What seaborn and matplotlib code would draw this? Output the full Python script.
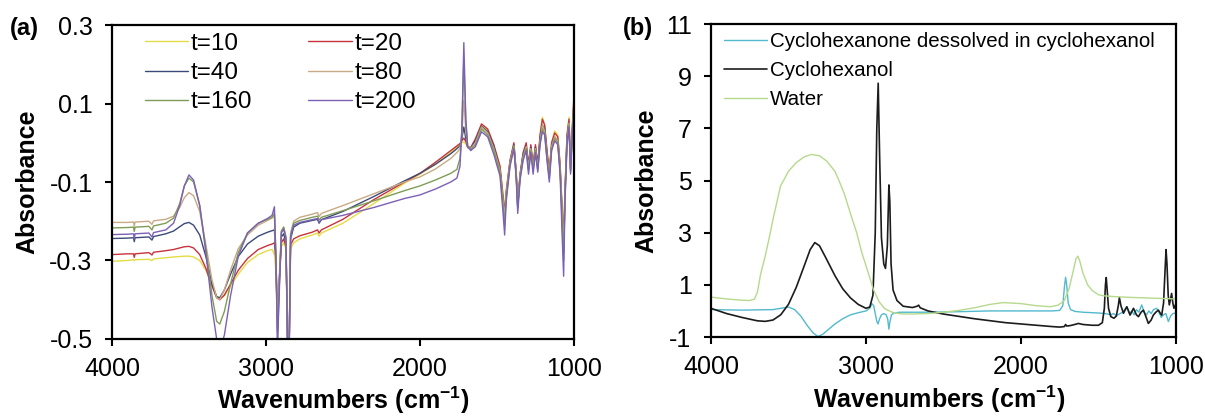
import pandas as pd
import matplotlib
matplotlib.use("Agg")
import matplotlib.pyplot as plt
import seaborn as sns

# ---- panel (a): spectra over time ----
wn_a = [4000, 3900, 3860, 3855, 3850, 3760, 3740, 3730, 3650, 3600,
        3560, 3530, 3500, 3470, 3430, 3390, 3350, 3320, 3300, 3270,
        3230, 3180, 3120, 3050, 2990, 2960, 2945, 2935, 2925, 2915,
        2900, 2885, 2870, 2858, 2850, 2840, 2820, 2780, 2700, 2665,
        2655, 2640, 2500, 2300, 2100, 2000, 1900, 1800, 1760, 1740,
        1728, 1715, 1702, 1690, 1670, 1640, 1600, 1560, 1520, 1480,
        1460, 1450, 1440, 1415, 1390, 1375, 1365, 1350, 1330, 1310,
        1295, 1280, 1265, 1250, 1235, 1220, 1205, 1190, 1175, 1160,
        1145, 1125, 1105, 1090, 1078, 1067, 1058, 1045, 1032, 1022,
        1012, 1000]

t10 = [-0.302, -0.300, -0.298, -0.300, -0.298, -0.297, -0.300, -0.296, -0.293, -0.291,
       -0.290, -0.289, -0.289, -0.291, -0.300, -0.325, -0.365, -0.392, -0.398, -0.390,
       -0.365, -0.335, -0.305, -0.285, -0.275, -0.272, -0.285, -0.330, -0.440, -0.370,
       -0.265, -0.255, -0.270, -0.550, -0.550, -0.270, -0.255, -0.245, -0.235, -0.230,
       -0.238, -0.230, -0.205, -0.155, -0.103, -0.080, -0.055, -0.025, -0.010, -0.005,
       0.000, 0.002, -0.003, -0.012, -0.015, 0.005, 0.045, 0.030, -0.010, -0.060,
       -0.130, -0.170, -0.120, -0.045, -0.005, -0.070, -0.150, -0.080, -0.030, -0.005,
       -0.060, -0.010, -0.060, -0.010, -0.060, 0.020, 0.065, 0.045, -0.020, -0.070,
       0.000, 0.030, 0.020, -0.050, -0.150, -0.240, -0.120, 0.020, 0.065, -0.060,
       0.030, 0.110]

t20 = [-0.285, -0.283, -0.283, -0.292, -0.283, -0.280, -0.286, -0.279, -0.275, -0.272,
       -0.268, -0.265, -0.264, -0.268, -0.285, -0.320, -0.365, -0.395, -0.400, -0.388,
       -0.360, -0.325, -0.295, -0.272, -0.262, -0.258, -0.255, -0.300, -0.450, -0.360,
       -0.255, -0.245, -0.265, -0.550, -0.550, -0.260, -0.245, -0.237, -0.228, -0.222,
       -0.230, -0.222, -0.195, -0.145, -0.100, -0.078, -0.050, -0.020, -0.008, -0.002,
       0.005, 0.012, 0.003, -0.010, -0.012, 0.010, 0.048, 0.035, -0.005, -0.060,
       -0.140, -0.180, -0.125, -0.045, 0.000, -0.075, -0.155, -0.080, -0.025, 0.000,
       -0.055, -0.005, -0.055, -0.005, -0.055, 0.020, 0.060, 0.045, -0.020, -0.075,
       0.000, 0.025, 0.015, -0.055, -0.160, -0.250, -0.120, 0.020, 0.060, -0.065,
       0.030, 0.120]

t40 = [-0.244, -0.243, -0.242, -0.252, -0.242, -0.240, -0.248, -0.239, -0.232, -0.225,
       -0.214, -0.206, -0.203, -0.210, -0.235, -0.290, -0.360, -0.392, -0.395, -0.375,
       -0.335, -0.290, -0.258, -0.238, -0.228, -0.224, -0.222, -0.300, -0.480, -0.370,
       -0.240, -0.232, -0.255, -0.550, -0.550, -0.245, -0.215, -0.205, -0.198, -0.195,
       -0.205, -0.196, -0.175, -0.137, -0.097, -0.078, -0.055, -0.028, -0.015, -0.008,
       0.010, 0.040, 0.010, -0.012, -0.014, 0.005, 0.042, 0.028, -0.010, -0.070,
       -0.150, -0.200, -0.135, -0.050, -0.005, -0.080, -0.165, -0.085, -0.030, -0.008,
       -0.065, -0.012, -0.065, -0.012, -0.060, 0.010, 0.045, 0.035, -0.030, -0.085,
       -0.010, 0.015, 0.005, -0.065, -0.170, -0.280, -0.130, 0.010, 0.050, -0.070,
       0.020, 0.100]

t80 = [-0.203, -0.203, -0.202, -0.212, -0.202, -0.200, -0.208, -0.199, -0.195, -0.187,
       -0.165, -0.140, -0.127, -0.135, -0.175, -0.260, -0.350, -0.395, -0.400, -0.375,
       -0.325, -0.270, -0.235, -0.210, -0.198, -0.192, -0.185, -0.280, -0.470, -0.360,
       -0.225, -0.215, -0.240, -0.550, -0.550, -0.230, -0.200, -0.190, -0.182, -0.178,
       -0.188, -0.180, -0.160, -0.130, -0.100, -0.087, -0.067, -0.040, -0.025, -0.015,
       0.020, 0.108, 0.030, -0.010, -0.015, 0.000, 0.040, 0.025, -0.015, -0.070,
       -0.150, -0.190, -0.130, -0.050, -0.008, -0.080, -0.160, -0.085, -0.035, -0.010,
       -0.065, -0.015, -0.065, -0.015, -0.065, 0.005, 0.045, 0.030, -0.035, -0.080,
       -0.010, 0.015, 0.005, -0.065, -0.170, -0.270, -0.130, 0.005, 0.050, -0.070,
       0.020, 0.100]

t160 = [-0.217, -0.216, -0.215, -0.226, -0.215, -0.213, -0.222, -0.212, -0.205, -0.192,
        -0.155, -0.110, -0.090, -0.100, -0.160, -0.270, -0.390, -0.455, -0.462, -0.430,
        -0.360, -0.280, -0.230, -0.205, -0.195, -0.190, -0.180, -0.300, -0.500, -0.380,
        -0.225, -0.215, -0.240, -0.550, -0.550, -0.235, -0.205, -0.198, -0.190, -0.187,
        -0.197, -0.190, -0.173, -0.148, -0.122, -0.110, -0.095, -0.078, -0.068, -0.040,
        0.030, 0.215, 0.050, -0.010, -0.017, -0.005, 0.035, 0.020, -0.020, -0.075,
        -0.160, -0.210, -0.140, -0.055, -0.010, -0.085, -0.165, -0.090, -0.040, -0.015,
        -0.070, -0.020, -0.070, -0.020, -0.070, 0.000, 0.035, 0.025, -0.040, -0.090,
        -0.015, 0.010, 0.000, -0.070, -0.190, -0.300, -0.140, 0.000, 0.045, -0.075,
        0.015, 0.090]

t200 = [-0.234, -0.233, -0.232, -0.245, -0.232, -0.230, -0.240, -0.229, -0.222, -0.205,
        -0.160, -0.110, -0.082, -0.095, -0.160, -0.280, -0.420, -0.500, -0.530, -0.490,
        -0.390, -0.290, -0.230, -0.205, -0.193, -0.185, -0.163, -0.300, -0.520, -0.400,
        -0.230, -0.220, -0.245, -0.560, -0.560, -0.240, -0.210, -0.203, -0.196, -0.193,
        -0.203, -0.196, -0.185, -0.165, -0.142, -0.133, -0.118, -0.100, -0.090, -0.060,
        0.030, 0.255, 0.060, -0.010, -0.020, -0.010, 0.028, 0.015, -0.030, -0.085,
        -0.180, -0.235, -0.150, -0.060, -0.015, -0.090, -0.180, -0.095, -0.045, -0.020,
        -0.080, -0.025, -0.080, -0.025, -0.075, -0.005, 0.028, 0.020, -0.045, -0.100,
        -0.020, 0.005, -0.005, -0.080, -0.220, -0.340, -0.150, -0.005, 0.040, -0.080,
        0.010, 0.085]

labels_a = ["t=10", "t=20", "t=40", "t=80", "t=160", "t=200"]
series_a = [t10, t20, t40, t80, t160, t200]
colors_a = ["#e3dc45", "#c8323c", "#3d4a78", "#c9aa86", "#7f9c57", "#7b60b6"]
yticks_a = [-0.5, -0.3, -0.1, 0.1, 0.3]

# ---- panel (b): references ----
wn_ketone = [4000, 3800, 3600, 3550, 3500, 3460, 3420, 3380, 3340, 3310,
             3280, 3240, 3200, 3150, 3100, 3050, 3000, 2975, 2962, 2950,
             2940, 2930, 2922, 2912, 2900, 2885, 2870, 2860, 2852, 2845,
             2835, 2820, 2780, 2600, 2400, 2200, 2000, 1800, 1750, 1730,
             1720, 1712, 1705, 1695, 1680, 1650, 1600, 1500, 1460, 1440,
             1420, 1403, 1385, 1365, 1345, 1317, 1300, 1285, 1270, 1255,
             1240, 1221, 1205, 1190, 1175, 1160, 1145, 1124, 1110, 1095,
             1081, 1065, 1049, 1035, 1020, 1006, 1000]
ketone = [0.05, 0.03, 0.05, 0.10, 0.15, 0.05, -0.20, -0.55, -0.85, -0.98,
          -0.90, -0.70, -0.50, -0.30, -0.15, -0.07, 0.00, 0.10, 0.28, 0.20,
          -0.10, -0.40, -0.50, -0.30, -0.15, -0.10, -0.15, -0.30, -0.70, -0.40,
          -0.15, -0.08, -0.05, -0.05, -0.03, 0.00, 0.00, 0.00, 0.02, 0.20,
          0.90, 1.29, 1.00, 0.30, 0.05, -0.02, -0.05, -0.08, -0.10, -0.12,
          -0.15, -0.10, -0.18, -0.12, -0.05, 0.16, -0.10, 0.00, -0.15, 0.05,
          -0.05, 0.23, -0.05, -0.15, 0.00, -0.10, 0.05, 0.10, -0.05, -0.25,
          -0.15, -0.10, -0.41, -0.20, -0.10, -0.09, -0.05]

wn_alcohol = [4000, 3900, 3800, 3700, 3650, 3600, 3550, 3500, 3450, 3400,
              3360, 3330, 3300, 3260, 3200, 3150, 3100, 3050, 3000, 2975,
              2955, 2940, 2930, 2921, 2912, 2900, 2885, 2874, 2862, 2852,
              2846, 2838, 2825, 2800, 2760, 2700, 2670, 2660, 2650, 2600,
              2500, 2300, 2100, 1900, 1800, 1750, 1720, 1712, 1705, 1680,
              1640, 1630, 1600, 1540, 1500, 1475, 1462, 1455, 1450, 1445,
              1435, 1420, 1400, 1385, 1372, 1365, 1355, 1339, 1317, 1296,
              1274, 1255, 1242, 1225, 1210, 1195, 1178, 1160, 1146, 1130,
              1113, 1100, 1092, 1080, 1070, 1064, 1058, 1050, 1043, 1035,
              1028, 1020, 1013, 1005, 1000]
alcohol = [0.10, -0.10, -0.25, -0.38, -0.40, -0.35, -0.15, 0.25, 0.90, 1.70,
           2.35, 2.62, 2.50, 2.05, 1.35, 0.85, 0.50, 0.25, 0.10, 0.15,
           0.60, 3.00, 7.00, 8.73, 6.00, 2.80, 1.80, 1.63, 2.50, 4.83,
           4.20, 1.80, 0.80, 0.40, 0.18, 0.13, 0.18, 0.22, 0.12, 0.00,
           -0.12, -0.30, -0.45, -0.55, -0.60, -0.62, -0.60, -0.52, -0.58, -0.56,
           -0.50, -0.48, -0.52, -0.55, -0.55, -0.45, 0.10, 1.00, 1.28, 0.90,
           0.10, -0.22, -0.28, -0.20, 0.20, 0.51, 0.20, -0.09, 0.16, -0.16,
           0.10, -0.15, -0.22, -0.05, 0.03, -0.20, -0.48, -0.35, -0.16, -0.05,
           0.03, -0.10, -0.16, 0.30, 1.60, 2.35, 1.80, 0.60, 0.23, 0.45,
           0.67, 0.30, 0.10, 0.20, 0.29]

wn_water = [4000, 3900, 3800, 3750, 3720, 3700, 3680, 3650, 3626, 3600,
            3551, 3500, 3451, 3400, 3352, 3300, 3252, 3200, 3177, 3140,
            3102, 3060, 3027, 2990, 2953, 2915, 2878, 2830, 2778, 2700,
            2600, 2500, 2400, 2300, 2200, 2112, 2000, 1900, 1811, 1760,
            1720, 1690, 1660, 1645, 1633, 1620, 1600, 1570, 1540, 1500,
            1468, 1400, 1300, 1200, 1100, 1000]
water = [0.53, 0.46, 0.41, 0.40, 0.45, 0.72, 1.40, 2.10, 2.75, 3.50,
         4.79, 5.35, 5.68, 5.90, 6.00, 5.95, 5.74, 5.35, 5.04, 4.50,
         3.77, 3.00, 2.24, 1.55, 0.84, 0.35, 0.08, -0.05, -0.11, -0.12,
         -0.10, -0.05, 0.02, 0.12, 0.25, 0.32, 0.28, 0.20, 0.16, 0.22,
         0.40, 0.85, 1.60, 2.00, 2.10, 1.90, 1.45, 1.00, 0.78, 0.62,
         0.58, 0.55, 0.52, 0.50, 0.48, 0.46]

labels_b = ["Cyclohexanone dessolved in cyclohexanol", "Cyclohexanol", "Water"]
colors_b = ["#52b9cf", "#1c1c1c", "#b6d98c"]
yticks_b = [-1, 1, 3, 5, 7, 9, 11]
xticks = [4000, 3000, 2000, 1000]

sns.set_style("ticks")
plt.rcParams["font.family"] = ["Liberation Sans", "DejaVu Sans"]
plt.rcParams["axes.unicode_minus"] = False
plt.rcParams["text.color"] = "black"
plt.rcParams["axes.labelcolor"] = "black"
plt.rcParams["mathtext.fontset"] = "custom"
plt.rcParams["mathtext.rm"] = "Liberation Sans"
plt.rcParams["mathtext.bf"] = "Liberation Sans:bold"

fig = plt.figure(figsize=(12.05, 4.16), dpi=100)
ax1 = fig.add_axes([0.0929, 0.1851, 0.3834, 0.7548])
ax2 = fig.add_axes([0.5900, 0.1899, 0.3859, 0.7524])

for lab, ys, col in zip(labels_a, series_a, colors_a):
    sns.lineplot(x=wn_a, y=ys, color=col, lw=1.0, label=lab, ax=ax1)

sns.lineplot(x=wn_ketone, y=ketone, color=colors_b[0], lw=1.0, label=labels_b[0], ax=ax2)
sns.lineplot(x=wn_alcohol, y=alcohol, color=colors_b[1], lw=1.2, label=labels_b[1], ax=ax2)
sns.lineplot(x=wn_water, y=water, color=colors_b[2], lw=1.0, label=labels_b[2], ax=ax2)

xlab = r"Wavenumbers (cm$^{\mathbf{-1}}$)"
for ax, yt in [(ax1, yticks_a), (ax2, yticks_b)]:
    ax.set_xlim(4000, 1000)
    ax.set_ylim(yt[0], yt[-1])
    ax.set_xticks(xticks)
    ax.set_yticks(yt)
    for s in ax.spines.values():
        s.set_linewidth(1.6)
        s.set_color("black")
    ax.tick_params(direction="out", length=5, width=1.5, labelsize=18, colors="black")
    ax.tick_params(axis="x", pad=8)
    ax.tick_params(axis="y", pad=9)
    ax.set_xlabel(xlab, fontsize=18, fontweight="bold", color="black")
    ax.set_ylabel("Absorbance", fontsize=18, fontweight="bold", color="black")

ax1.set_yticklabels([f"{v:.1f}" for v in yticks_a])
ax1.xaxis.set_label_coords(0.5, -0.145)
ax2.xaxis.set_label_coords(0.49, -0.15)
ax1.yaxis.set_label_coords(-0.158, 0.5)
ax2.yaxis.set_label_coords(-0.114, 0.5)

# legend (a): two columns filled row by row
h, l = ax1.get_legend_handles_labels()
order = [0, 2, 4, 1, 3, 5]
ax1.legend([h[i] for i in order], [l[i] for i in order], loc="upper left",
           bbox_to_anchor=(0.071, 0.975), ncol=2, frameon=False,
           fontsize=17.5, handlelength=1.8, handletextpad=0.1, labelspacing=0.3,
           columnspacing=2.3, borderpad=0, borderaxespad=0, labelcolor="black")
ax2.legend(loc="upper left", bbox_to_anchor=(0.028, 0.975), frameon=False,
           fontsize=14.8, handlelength=2.1, handletextpad=0.15, labelspacing=0.5,
           borderpad=0, borderaxespad=0, labelcolor="black")

fig.text(10 / 1205, 1 - 29 / 416, "(a)", fontsize=17, fontweight="bold", va="center")
fig.text(623 / 1205, 1 - 29 / 416, "(b)", fontsize=17, fontweight="bold", va="center")

fig.savefig("out.png", dpi=100)
